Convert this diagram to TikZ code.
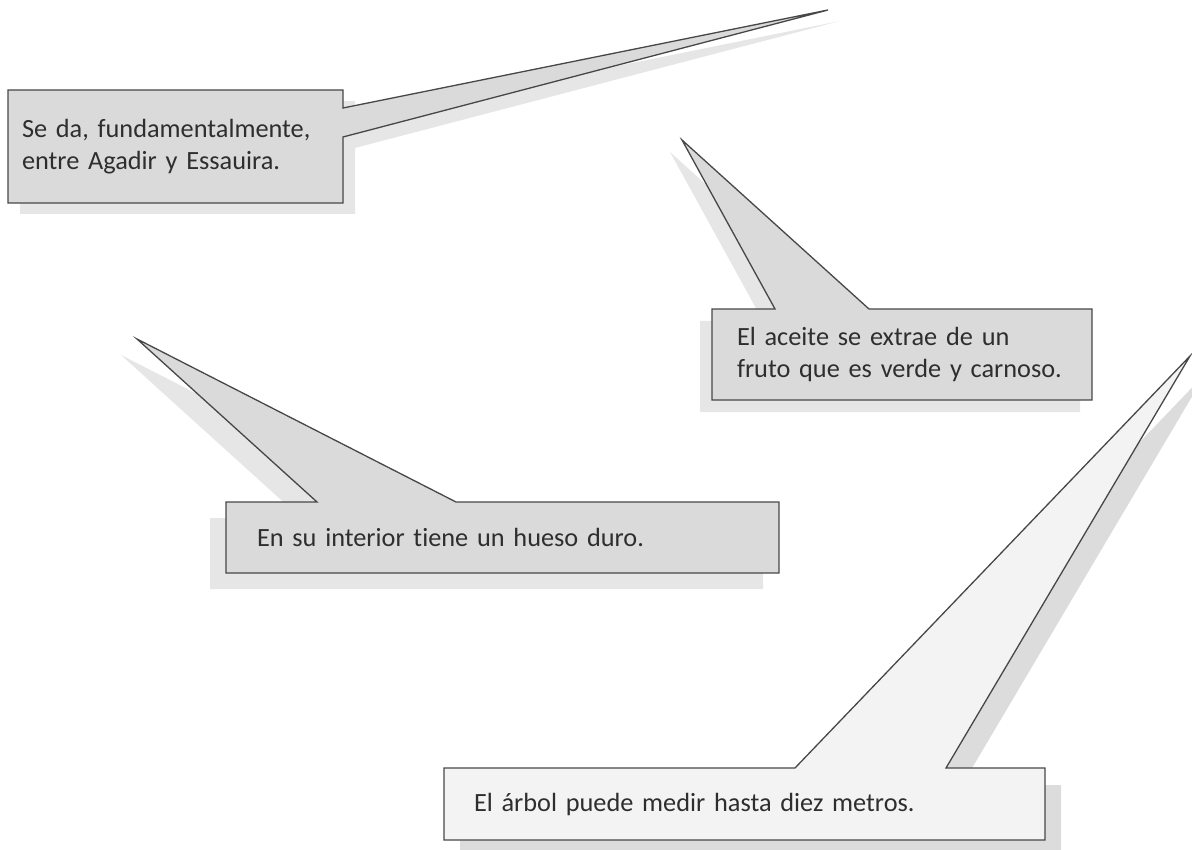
\documentclass[tikz,border=0pt]{standalone}
\usepackage{fontspec}
\setmainfont{Carlito}[Ligatures=NoCommon]
\usetikzlibrary{calc, backgrounds}
\definecolor{boxline}{HTML}{474747}
\definecolor{boxfill}{HTML}{DADADA}
\definecolor{boxshade}{HTML}{E6E6E6}
\definecolor{lightfill}{HTML}{F3F3F3}
\definecolor{lightshade}{HTML}{DCDCDC}
\definecolor{boxtext}{HTML}{2E2E2E}

\tikzset{
  note/.style={rectangle, inner ysep=0pt, outer sep=0pt, align=left, text=boxtext,
    font=\fontsize{26.3}{32}\selectfont},
  bubble/.style={draw=boxline, fill=boxfill, line width=1.3pt, line join=miter},
  bubbleshade/.style={fill=boxshade}
}

\begin{document}
\begin{tikzpicture}[x=1pt, y=-1pt]
\path[use as bounding box, clip] (0,0) rectangle (1192,850);

% the four notes
\node[note, minimum width=335pt, minimum height=113pt, text width=307pt, inner xsep=14pt] (reg) at (175.5,146.5)
  {Se da, fundamentalmente,\\entre Agadir y Essauira.};
\node[note, minimum width=380pt, minimum height=91pt, text width=330pt, inner xsep=25pt] (oil) at (902,354.5)
  {El aceite se extrae de un\\\mbox{fruto que es verde y carnoso.}};
\node[note, minimum width=553pt, minimum height=71pt, text width=491pt, inner xsep=31pt] (seed) at (502.5,537.5)
  {En su interior tiene un hueso duro.};
\node[note, minimum width=601pt, minimum height=72pt, text width=541pt, inner xsep=30pt] (tree) at (744.5,804)
  {El árbol puede medir hasta diez metros.};

% tips of the tails
\coordinate (regtip) at (828,10);
\coordinate (oiltip) at (682,140);
\coordinate (seedtip) at (137,339);
\coordinate (treetip) at (1190,356);

\coordinate (rega) at ($(reg.north east)+(0,18)$);
\coordinate (regb) at ($(reg.north east)+(0,47)$);
\coordinate (oila) at ($(oil.north west)+(63,0)$);
\coordinate (oilb) at ($(oil.north west)+(157,0)$);
\coordinate (seeda) at ($(seed.north west)+(91,0)$);
\coordinate (seedb) at ($(seed.north west)+(230,0)$);
\coordinate (treea) at ($(tree.north west)+(351,0)$);
\coordinate (treeb) at ($(tree.north west)+(502,0)$);

\begin{scope}[on background layer]
% shadows
\fill[bubbleshade, transform canvas={shift={(12pt,-11pt)}}] (reg.north west) -- (reg.north east) -- (rega) -- (regtip) -- (regb) -- (reg.south east) -- (reg.south west) -- cycle;
\fill[bubbleshade, transform canvas={shift={(-12pt,-12pt)}}] (oil.north west) -- (oila) -- (oiltip) -- (oilb) -- (oil.north east) -- (oil.south east) -- (oil.south west) -- cycle;
\fill[bubbleshade, transform canvas={shift={(-16pt,-16pt)}}] (seed.north west) -- (seeda) -- (seedtip) -- (seedb) -- (seed.north east) -- (seed.south east) -- (seed.south west) -- cycle;
\fill[bubbleshade, fill=lightshade, transform canvas={shift={(16pt,-17pt)}}] (tree.north west) -- (treea) -- (treetip) -- (treeb) -- (tree.north east) -- (tree.south east) -- (tree.south west) -- cycle;

% outlines
\path[bubble] (reg.north west) -- (reg.north east) -- (rega) -- (regtip) -- (regb) -- (reg.south east) -- (reg.south west) -- cycle;
\path[bubble] (oil.north west) -- (oila) -- (oiltip) -- (oilb) -- (oil.north east) -- (oil.south east) -- (oil.south west) -- cycle;
\path[bubble] (seed.north west) -- (seeda) -- (seedtip) -- (seedb) -- (seed.north east) -- (seed.south east) -- (seed.south west) -- cycle;
\path[bubble, fill=lightfill] (tree.north west) -- (treea) -- (treetip) -- (treeb) -- (tree.north east) -- (tree.south east) -- (tree.south west) -- cycle;
\end{scope}
\end{tikzpicture}
\end{document}
